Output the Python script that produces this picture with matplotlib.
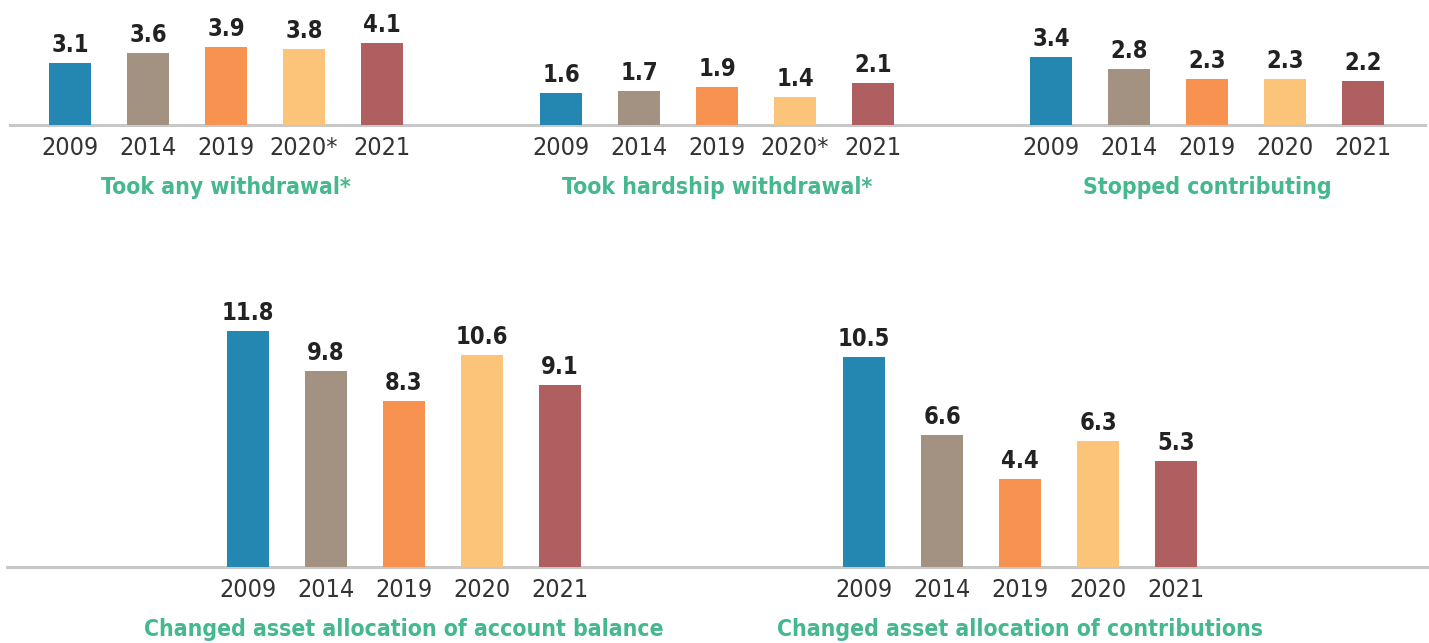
import matplotlib
matplotlib.use("Agg")
import matplotlib.pyplot as plt
from matplotlib.lines import Line2D

# ================= DATA =================
years_star = ["2009", "2014", "2019", "2020*", "2021"]
years = ["2009", "2014", "2019", "2020", "2021"]

any_withdrawal = [3.1, 3.6, 3.9, 3.8, 4.1]
hardship_withdrawal = [1.6, 1.7, 1.9, 1.4, 2.1]
stopped_contributing = [3.4, 2.8, 2.3, 2.3, 2.2]
alloc_balance = [11.8, 9.8, 8.3, 10.6, 9.1]
alloc_contributions = [10.5, 6.6, 4.4, 6.3, 5.3]

colors = ["#2387B2", "#A39281", "#F79250", "#FCC478", "#AF5F5F"]
title_color = "#45B88E"

# ================= FIGURE =================
W, H = 1429, 643
fig = plt.figure(figsize=(W / 100, H / 100), dpi=100)
FONT = dict(family="DejaVu Sans", stretch="condensed")

STEP = 78      # px between bar centres
PX_PER_UNIT = 20

def panel(x0, base_y, top_y, values, labels, title):
    # x0: centre of first bar (px), base_y / top_y: px from top of figure
    left = x0 - STEP / 2
    ax = fig.add_axes([left / W, (H - base_y) / H, 5 * STEP / W, (base_y - top_y) / H])
    ax.set_xlim(-0.5, 4.5)
    ax.set_ylim(0, (base_y - top_y) / PX_PER_UNIT)
    bars = ax.bar(range(5), values, width=0.55, color=colors)
    ax.bar_label(bars, labels=[f"{v:.1f}" for v in values], padding=4,
                 fontsize=17, fontweight="bold", color="#222222", **FONT)
    ax.set_xticks(range(5), labels)
    ax.tick_params(axis="x", length=0, pad=8, labelsize=18, labelcolor="#333333")
    for t in ax.get_xticklabels():
        t.set_fontstretch("condensed")
    ax.set_yticks([])
    for s in ax.spines.values():
        s.set_visible(False)
    ax.patch.set_alpha(0)
    ax.annotate(title, xy=(2, 0), xycoords=("data", "axes fraction"),
                xytext=(0, -50), textcoords="offset points",
                ha="center", va="baseline", fontsize=16.5, fontweight="bold",
                color=title_color, annotation_clip=False, **FONT)
    return ax

# baselines
fig.add_artist(Line2D([10 / W, 1425 / W], [(H - 125) / H] * 2, color="#C8C8C8",
                      lw=2.2, transform=fig.transFigure, zorder=0))
fig.add_artist(Line2D([7 / W, 1], [(H - 567) / H] * 2, color="#C8C8C8",
                      lw=2.2, transform=fig.transFigure, zorder=0))

panel(70, 125, 0, any_withdrawal, years_star, "Took any withdrawal*")
panel(561, 125, 0, hardship_withdrawal, years_star, "Took hardship withdrawal*")
panel(1051, 125, 0, stopped_contributing, years, "Stopped contributing")
panel(248, 567, 267, alloc_balance, years, "Changed asset allocation of account balance")
panel(864, 567, 267, alloc_contributions, years, "Changed asset allocation of contributions")

fig.savefig("out.png", dpi=100)
